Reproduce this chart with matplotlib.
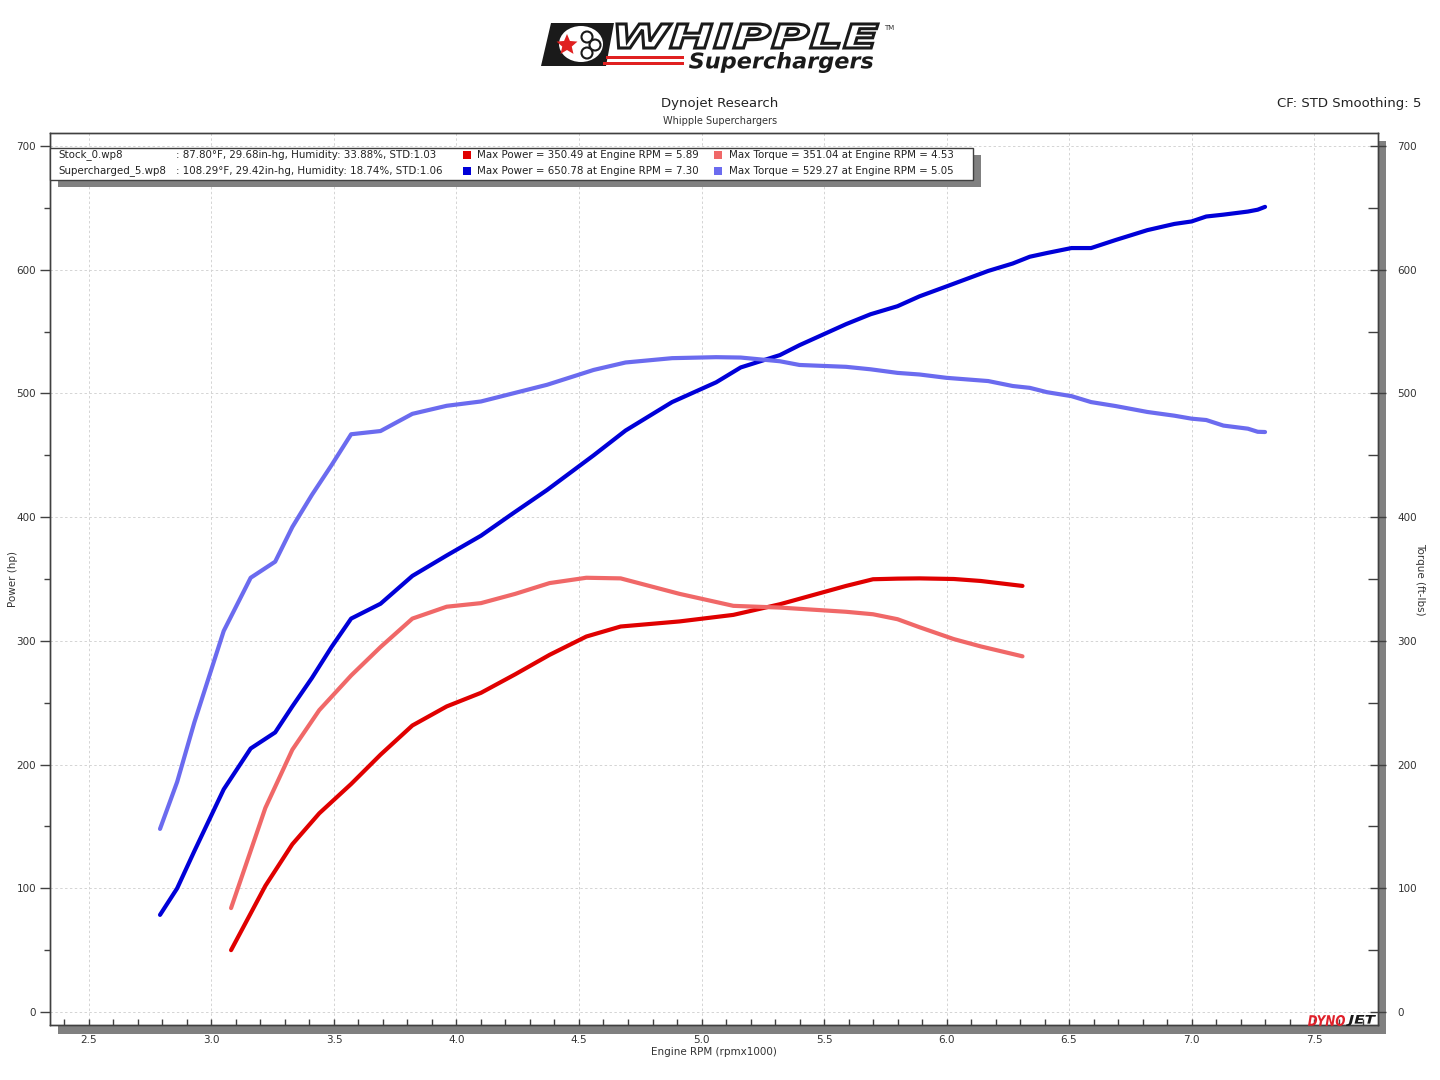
import matplotlib
matplotlib.use('Agg')
import math
import matplotlib.pyplot as plt
from matplotlib.ticker import MultipleLocator
from matplotlib.patches import Rectangle, Polygon, Circle, Ellipse, PathPatch
from matplotlib.textpath import TextPath
from matplotlib.font_manager import FontProperties
from matplotlib.transforms import Affine2D

plt.rcParams['font.family'] = 'DejaVu Sans'

# data (rpm x1000, hp, ft-lbs)
rpm_stock = [3.08, 3.22, 3.33, 3.44, 3.57, 3.69, 3.82, 3.96, 4.10, 4.24, 4.38, 4.53,
             4.67, 4.91, 5.13, 5.32, 5.59, 5.70, 5.80, 5.89, 6.03, 6.14, 6.31]
power_stock = [50, 102, 135.6, 160.6, 184.3, 208, 231.6, 247, 258, 273, 288.7, 303.5,
               311.6, 315.7, 321, 329.6, 344.4, 349.8, 350.3, 350.5, 350, 348.4, 344.4]
torque_stock = [84, 165, 212, 244, 272, 295, 318, 327.6, 330.5, 338, 346.7, 351.0,
                350.5, 338, 328.3, 326.9, 323.5, 321.5, 317.5, 311, 301.4, 295.5, 287.5]

rpm_sc = [2.79, 2.86, 2.93, 3.05, 3.16, 3.26, 3.33, 3.41, 3.49, 3.57, 3.69, 3.82, 3.96,
          4.10, 4.23, 4.37, 4.56, 4.69, 4.88, 5.06, 5.16, 5.32, 5.40, 5.59, 5.69, 5.80,
          5.89, 6.00, 6.17, 6.27, 6.34, 6.41, 6.51, 6.59, 6.69, 6.82, 6.93, 7.00, 7.06,
          7.13, 7.23, 7.27, 7.30]
power_sc = [78.5, 100, 130, 180, 213, 226, 247, 270, 295, 318, 330, 352.5, 369,
            385, 403, 422, 450, 470, 493, 509, 521, 531, 539, 556, 564, 570.5,
            578.5, 586.5, 599, 605, 610.5, 613.5, 617.5, 617.5, 624, 632, 637, 639, 643,
            644.5, 647, 648.5, 650.8]
torque_sc = [148, 186, 234, 308, 351, 364, 392, 418, 442, 467, 469.6, 483.5, 490,
             493.5, 500, 507, 519, 525, 528.5, 529.3, 529, 526, 523, 521.5, 519.5, 516.6,
             515.3, 512.6, 510, 506, 504.5, 501, 497.8, 493, 489.8, 485, 482, 479.6, 478.5,
             474, 471.5, 469, 468.8]

run_names = ['Stock_0.wp8', 'Supercharged_5.wp8']
run_conditions = [': 87.80\u00b0F, 29.68in-hg, Humidity: 33.88%, STD:1.03',
                  ': 108.29\u00b0F, 29.42in-hg, Humidity: 18.74%, STD:1.06']
max_power = [(350.49, 5.89), (650.78, 7.30)]
max_torque = [(351.04, 4.53), (529.27, 5.05)]

c_power = ['#e00000', '#0000d8']
c_torque = ['#f06868', '#6b6bef']
shadow = '#808080'
edge = '#404040'

fig = plt.figure(figsize=(14.4, 10.8), dpi=100)

# pixel-space helper axes (behind and in front of the chart)
bg = fig.add_axes([0, 0, 1, 1], zorder=0)
fg = fig.add_axes([0, 0, 1, 1], zorder=5)
for a in (bg, fg):
    a.set_xlim(0, 1440)
    a.set_ylim(1080, 0)
    a.axis('off')
    a.patch.set_alpha(0)

L, R, T, B = 50, 1378, 133, 1025
ax = fig.add_axes([L / 1440, 1 - B / 1080, (R - L) / 1440, (B - T) / 1080], zorder=1)
ax2 = ax.twinx()
ax2.set_zorder(2)

# frame shadow
bg.add_patch(Rectangle((58, B), R + 8 - 58, 9, color=shadow, lw=0))
bg.add_patch(Rectangle((R, 141), 8, B + 9 - 141, color=shadow, lw=0))

lw = 3.0
ax.plot(rpm_stock, power_stock, color=c_power[0], lw=lw, solid_joinstyle='round', solid_capstyle='round')
ax.plot(rpm_sc, power_sc, color=c_power[1], lw=lw, solid_joinstyle='round', solid_capstyle='round')
ax2.plot(rpm_stock, torque_stock, color=c_torque[0], lw=lw, solid_joinstyle='round', solid_capstyle='round')
ax2.plot(rpm_sc, torque_sc, color=c_torque[1], lw=lw, solid_joinstyle='round', solid_capstyle='round')

for a in (ax, ax2):
    a.set_xlim(2.341, 7.761)
    a.set_ylim(-10.5, 710.5)
    for s in a.spines.values():
        s.set_color(edge)
        s.set_linewidth(1)

ax.xaxis.set_major_locator(MultipleLocator(0.5))
ax.xaxis.set_minor_locator(MultipleLocator(0.1))
ax.yaxis.set_major_locator(MultipleLocator(100))
ax.yaxis.set_minor_locator(MultipleLocator(50))
ax2.yaxis.set_major_locator(MultipleLocator(100))
ax2.yaxis.set_minor_locator(MultipleLocator(50))
ax.xaxis.set_major_formatter(matplotlib.ticker.FormatStrFormatter('%.1f'))

ax.grid(True, which='major', color='#d4d4d4', ls=(0, (2.5, 2.5)), lw=0.7)
ax.set_axisbelow(True)

ax.tick_params(axis='x', which='both', direction='in', length=4.5, width=1, color=edge,
               labelsize=7.5, labelcolor='#333333', pad=7)
ax.tick_params(axis='y', which='major', direction='out', length=7, width=1, color=edge,
               labelsize=7.5, labelcolor='#333333', pad=3)
ax.tick_params(axis='y', which='minor', direction='out', length=4, width=1, color=edge)
ax2.tick_params(axis='y', which='major', direction='inout', length=12, width=1, color=edge,
                labelsize=7.5, labelcolor='#333333', pad=8)
ax2.tick_params(axis='y', which='minor', direction='in', length=7, width=1, color=edge)

ax.set_xlabel('Engine RPM (rpmx1000)', fontsize=7.5, color='#333333', va='center')
ax.xaxis.set_label_coords(0.5, (B - 1052) / (B - T))
ax.set_ylabel('Power (hp)', fontsize=7.5, color='#333333', va='center')
ax.yaxis.set_label_coords((13 - L) / (R - L), 0.5)
ax2.set_ylabel('Torque (ft-lbs)', fontsize=7.5, color='#333333', rotation=270, va='center')
ax2.yaxis.set_label_coords((1420 - L) / (R - L), 0.5)

# titles
fg.text(720, 104, 'Dynojet Research', ha='center', va='center', fontsize=9.5, color='#222222')
fg.text(720, 121, 'Whipple Superchargers', ha='center', va='center', fontsize=7, color='#333333')
fg.text(1421, 104, 'CF: STD Smoothing: 5', ha='right', va='center', fontsize=9.5, color='#222222')

# legend box
fg.add_patch(Rectangle((58, 155), 923, 32, color=shadow, lw=0))
fg.add_patch(Rectangle((L, 148), 923, 32, facecolor='white', edgecolor=edge, lw=1))
fs = 7.4
for i in range(2):
    y = 155 + 16 * i
    fg.text(58, y, run_names[i], va='center', fontsize=fs, color='#222222')
    fg.text(176, y, run_conditions[i], va='center', fontsize=fs, color='#222222')
    fg.add_patch(Rectangle((463, y - 4), 8, 8, color=c_power[i], lw=0))
    fg.text(477, y, 'Max Power = %.2f at Engine RPM = %.2f' % max_power[i],
            va='center', fontsize=fs, color='#222222')
    fg.add_patch(Rectangle((714, y - 4), 8, 8, color=c_torque[i], lw=0))
    fg.text(729, y, 'Max Torque = %.2f at Engine RPM = %.2f' % max_torque[i],
            va='center', fontsize=fs, color='#222222')


def fit_text(a, s, x0, y0, x1, y1, fc, ec='none', lw=0, weight='bold', style='italic'):
    tp = TextPath((0, 0), s, size=10, prop=FontProperties(family='DejaVu Sans', weight=weight, style=style))
    bb = tp.get_extents()
    tr = Affine2D().translate(-bb.x0, -bb.y1).scale((x1 - x0) / bb.width, -(y1 - y0) / bb.height).translate(x0, y0)
    a.add_patch(PathPatch(tr.transform_path(tp), fc=fc, ec=ec, lw=lw))


# Whipple logo
fg.add_patch(Polygon([(551, 23), (614, 23), (606, 66), (541, 66)], closed=True, color='#1a1a1a', lw=0))
fg.add_patch(Ellipse((581, 44), 44, 36, color='white', lw=0))
star = []
for k in range(10):
    r = 11 if k % 2 == 0 else 5
    ang = math.radians(90 + 36 * k)
    star.append((567 + r * math.cos(ang), 45 - r * math.sin(ang)))
fg.add_patch(Polygon(star, closed=True, color='#e02020', lw=0))
for cx, cy in [(587, 37), (595, 45), (587, 53)]:
    fg.add_patch(Circle((cx, cy), 5.5, fc='white', ec='#1a1a1a', lw=1.5))
fit_text(fg, 'WHIPPLE', 617, 24, 878, 48, fc='white', ec='#1a1a1a', lw=2.2, weight='heavy')
fg.add_patch(Rectangle((606, 56), 78, 3, color='#e02020', lw=0))
fg.add_patch(Rectangle((603, 62), 81, 3, color='#e02020', lw=0))
fit_text(fg, 'Superchargers', 689, 52, 873, 73, fc='#1a1a1a', weight='heavy')
fg.text(884, 28, 'TM', fontsize=5, va='center', color='#333333')

# Dynojet logo
fit_text(fg, 'DYNO', 1308, 1015, 1345, 1026, fc='#e0202a', weight='heavy')
fit_text(fg, 'JET', 1346, 1015, 1376, 1026, fc='#1a1a1a', weight='heavy')

plt.savefig('out.png', dpi=100)
